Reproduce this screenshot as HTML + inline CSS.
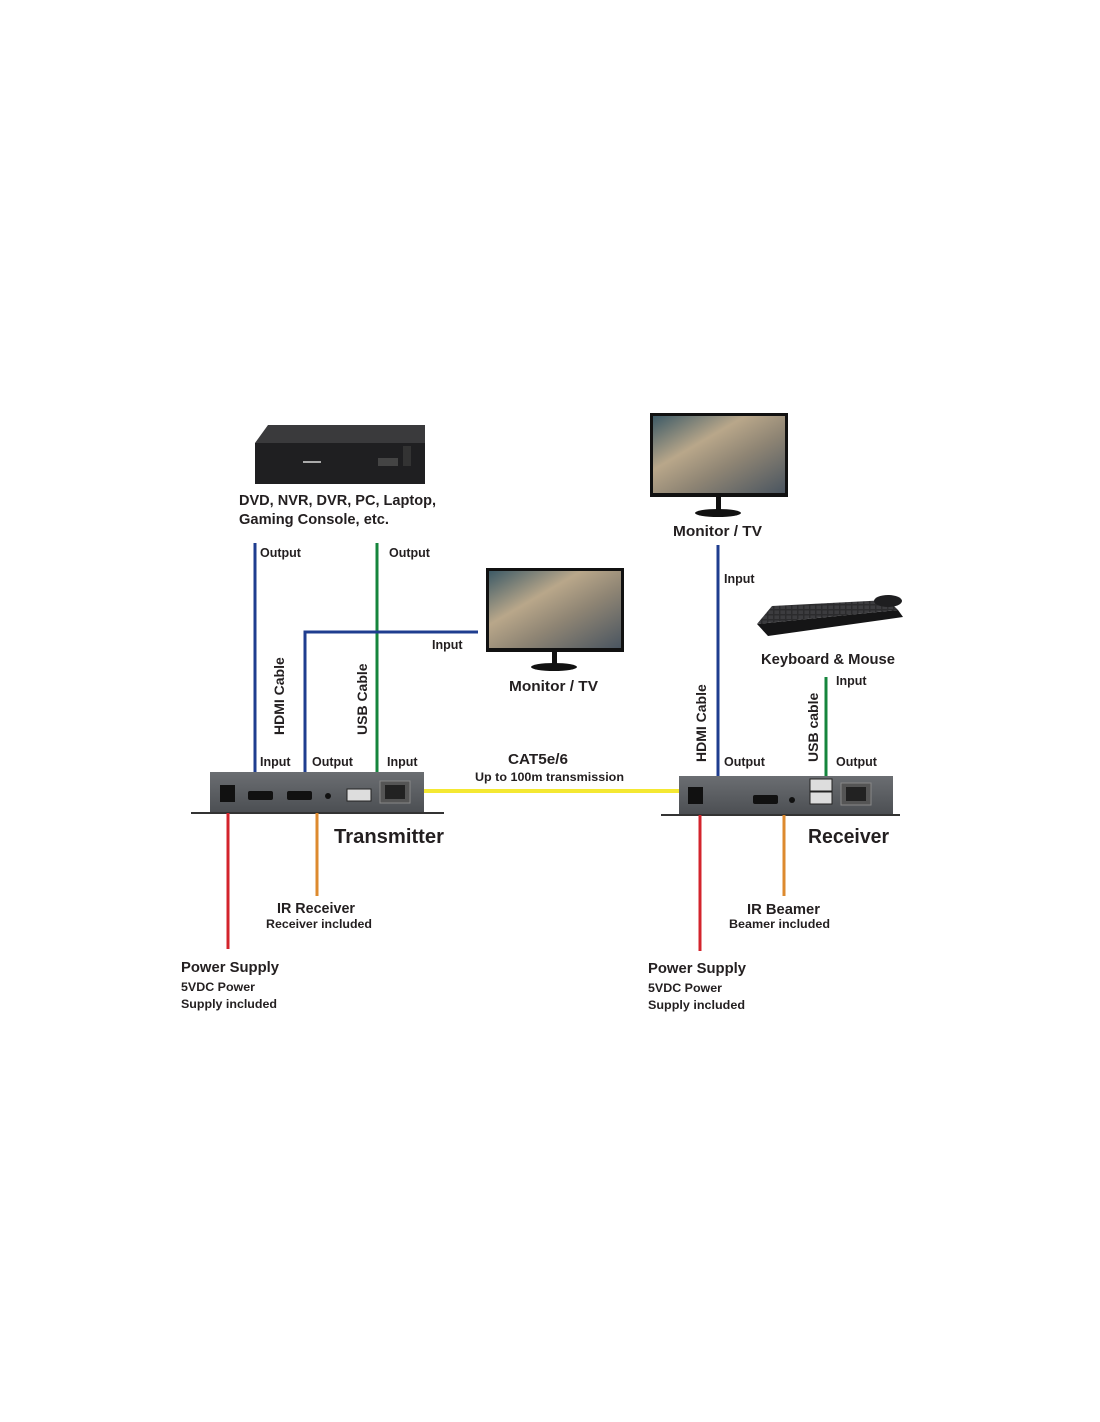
<!DOCTYPE html>
<html><head><meta charset="utf-8"><style>
html,body{margin:0;padding:0;background:#fff;}
svg{display:block;}
text{font-family:"Liberation Sans",sans-serif;font-weight:bold;fill:#231f20;}
</style></head><body>
<svg width="1100" height="1422" viewBox="0 0 1100 1422" xmlns="http://www.w3.org/2000/svg">
<defs>
<linearGradient id="scr" x1="0" y1="0" x2="1" y2="1">
<stop offset="0" stop-color="#3d5a66"/><stop offset="0.35" stop-color="#b9a78a"/><stop offset="0.6" stop-color="#8f8574"/><stop offset="1" stop-color="#4a5560"/>
</linearGradient>
<linearGradient id="box" x1="0" y1="0" x2="0" y2="1">
<stop offset="0" stop-color="#6b6e72"/><stop offset="1" stop-color="#4c4f53"/>
</linearGradient>
<pattern id="keys" width="6" height="5" patternUnits="userSpaceOnUse">
<rect width="6" height="5" fill="#2b2b2d"/><rect x="0.5" y="0.5" width="4.5" height="3.5" fill="#3c3c3f"/>
</pattern>
</defs>

<!-- NVR box -->
<polygon points="268,425 425,425 425,443 255,443" fill="#3a3a3c"/>
<rect x="255" y="443" width="170" height="41" fill="#1f1f21"/>
<rect x="378" y="458" width="20" height="8" fill="#444"/>
<rect x="403" y="446" width="8" height="20" fill="#333"/>
<rect x="303" y="461" width="18" height="2" fill="#aaa"/>
<text x="239" y="505" font-size="15" textLength="197" lengthAdjust="spacingAndGlyphs">DVD, NVR, DVR, PC, Laptop,</text>
<text x="239" y="524" font-size="15" textLength="150" lengthAdjust="spacingAndGlyphs">Gaming Console, etc.</text>

<!-- transmitter lines -->
<line x1="255" y1="543" x2="255" y2="773" stroke="#1f3d8f" stroke-width="3"/>
<line x1="377" y1="543" x2="377" y2="773" stroke="#15853c" stroke-width="3"/>
<polyline points="305,773 305,632 478,632" fill="none" stroke="#1f3d8f" stroke-width="3"/>
<text x="260" y="557" font-size="12.5">Output</text>
<text x="389" y="557" font-size="12.5">Output</text>
<text x="432" y="649" font-size="12.5">Input</text>
<text transform="translate(284,735) rotate(-90)" font-size="14">HDMI Cable</text>
<text transform="translate(367,735) rotate(-90)" font-size="14">USB Cable</text>

<!-- monitor center -->
<rect x="486" y="568" width="138" height="84" fill="#111"/>
<rect x="489" y="571" width="132" height="77" fill="url(#scr)"/>
<rect x="552" y="652" width="5" height="13" fill="#111"/>
<ellipse cx="554" cy="667" rx="23" ry="4" fill="#111"/>
<text x="509" y="691" font-size="14.5" textLength="89" lengthAdjust="spacingAndGlyphs">Monitor / TV</text>

<!-- transmitter box -->
<text x="260" y="766" font-size="12.5">Input</text>
<text x="312" y="766" font-size="12.5">Output</text>
<text x="387" y="766" font-size="12.5">Input</text>
<rect x="210" y="772" width="214" height="40" fill="url(#box)"/>
<line x1="191" y1="813" x2="444" y2="813" stroke="#333" stroke-width="2"/>
<rect x="220" y="785" width="15" height="17" fill="#111"/>
<rect x="248" y="791" width="25" height="9" rx="2" fill="#111"/>
<rect x="287" y="791" width="25" height="9" rx="2" fill="#111"/>
<circle cx="328" cy="796" r="3" fill="#111"/>
<rect x="347" y="789" width="24" height="12" fill="#ddd" stroke="#222"/>
<rect x="380" y="781" width="30" height="22" fill="#555" stroke="#888"/>
<rect x="385" y="785" width="20" height="14" fill="#222"/>

<!-- CAT -->
<line x1="424" y1="791" x2="680" y2="791" stroke="#f4e832" stroke-width="4"/>
<text x="508" y="764" font-size="14.5" textLength="60" lengthAdjust="spacingAndGlyphs">CAT5e/6</text>
<text x="475" y="781" font-size="12" textLength="149" lengthAdjust="spacingAndGlyphs">Up to 100m transmission</text>

<!-- transmitter bottom -->
<line x1="228" y1="813" x2="228" y2="949" stroke="#d3242c" stroke-width="3"/>
<line x1="317" y1="813" x2="317" y2="896" stroke="#dd8a2e" stroke-width="3"/>
<text x="334" y="843" font-size="20.5" textLength="110" lengthAdjust="spacingAndGlyphs">Transmitter</text>
<text x="277" y="913" font-size="14.5" textLength="78" lengthAdjust="spacingAndGlyphs">IR Receiver</text>
<text x="266" y="928" font-size="12" textLength="106" lengthAdjust="spacingAndGlyphs">Receiver included</text>
<text x="181" y="972" font-size="14.5" textLength="98" lengthAdjust="spacingAndGlyphs">Power Supply</text>
<text x="181" y="991" font-size="12" textLength="74" lengthAdjust="spacingAndGlyphs">5VDC Power</text>
<text x="181" y="1008" font-size="12" textLength="96" lengthAdjust="spacingAndGlyphs">Supply included</text>

<!-- monitor right -->
<rect x="650" y="413" width="138" height="84" fill="#111"/>
<rect x="653" y="416" width="132" height="77" fill="url(#scr)"/>
<rect x="716" y="497" width="5" height="13" fill="#111"/>
<ellipse cx="718" cy="513" rx="23" ry="4" fill="#111"/>
<text x="673" y="536" font-size="14.5" textLength="89" lengthAdjust="spacingAndGlyphs">Monitor / TV</text>

<line x1="718" y1="545" x2="718" y2="777" stroke="#1f3d8f" stroke-width="3"/>
<text x="724" y="583" font-size="12.5">Input</text>

<!-- keyboard -->
<polygon points="757,624 768,636 903,617 898,610" fill="#151516"/>
<polygon points="772,606 888,600 898,610 757,624" fill="url(#keys)"/>
<ellipse cx="888" cy="601" rx="14" ry="6" fill="#1e1e20"/>
<text x="761" y="664" font-size="14.5" textLength="134" lengthAdjust="spacingAndGlyphs">Keyboard &amp; Mouse</text>

<line x1="826" y1="677" x2="826" y2="777" stroke="#15853c" stroke-width="3"/>
<text x="836" y="685" font-size="12.5">Input</text>
<text transform="translate(706,762) rotate(-90)" font-size="14">HDMI Cable</text>
<text transform="translate(818,762) rotate(-90)" font-size="14">USB cable</text>
<text x="724" y="766" font-size="12.5">Output</text>
<text x="836" y="766" font-size="12.5">Output</text>

<!-- receiver box -->
<rect x="679" y="776" width="214" height="38" fill="url(#box)"/>
<line x1="661" y1="815" x2="900" y2="815" stroke="#333" stroke-width="2"/>
<rect x="688" y="787" width="15" height="17" fill="#111"/>
<rect x="753" y="795" width="25" height="9" rx="2" fill="#111"/>
<circle cx="792" cy="800" r="3" fill="#111"/>
<rect x="810" y="779" width="22" height="12" fill="#ddd" stroke="#222"/>
<rect x="810" y="792" width="22" height="12" fill="#ddd" stroke="#222"/>
<rect x="841" y="783" width="30" height="22" fill="#555" stroke="#888"/>
<rect x="846" y="787" width="20" height="14" fill="#222"/>

<line x1="700" y1="815" x2="700" y2="951" stroke="#d3242c" stroke-width="3"/>
<line x1="784" y1="815" x2="784" y2="896" stroke="#dd8a2e" stroke-width="3"/>
<text x="808" y="843" font-size="20.5" textLength="81" lengthAdjust="spacingAndGlyphs">Receiver</text>
<text x="747" y="914" font-size="14.5" textLength="73" lengthAdjust="spacingAndGlyphs">IR Beamer</text>
<text x="729" y="928" font-size="12" textLength="101" lengthAdjust="spacingAndGlyphs">Beamer included</text>
<text x="648" y="973" font-size="14.5" textLength="98" lengthAdjust="spacingAndGlyphs">Power Supply</text>
<text x="648" y="992" font-size="12" textLength="74" lengthAdjust="spacingAndGlyphs">5VDC Power</text>
<text x="648" y="1009" font-size="12" textLength="97" lengthAdjust="spacingAndGlyphs">Supply included</text>
</svg>
</body></html>
